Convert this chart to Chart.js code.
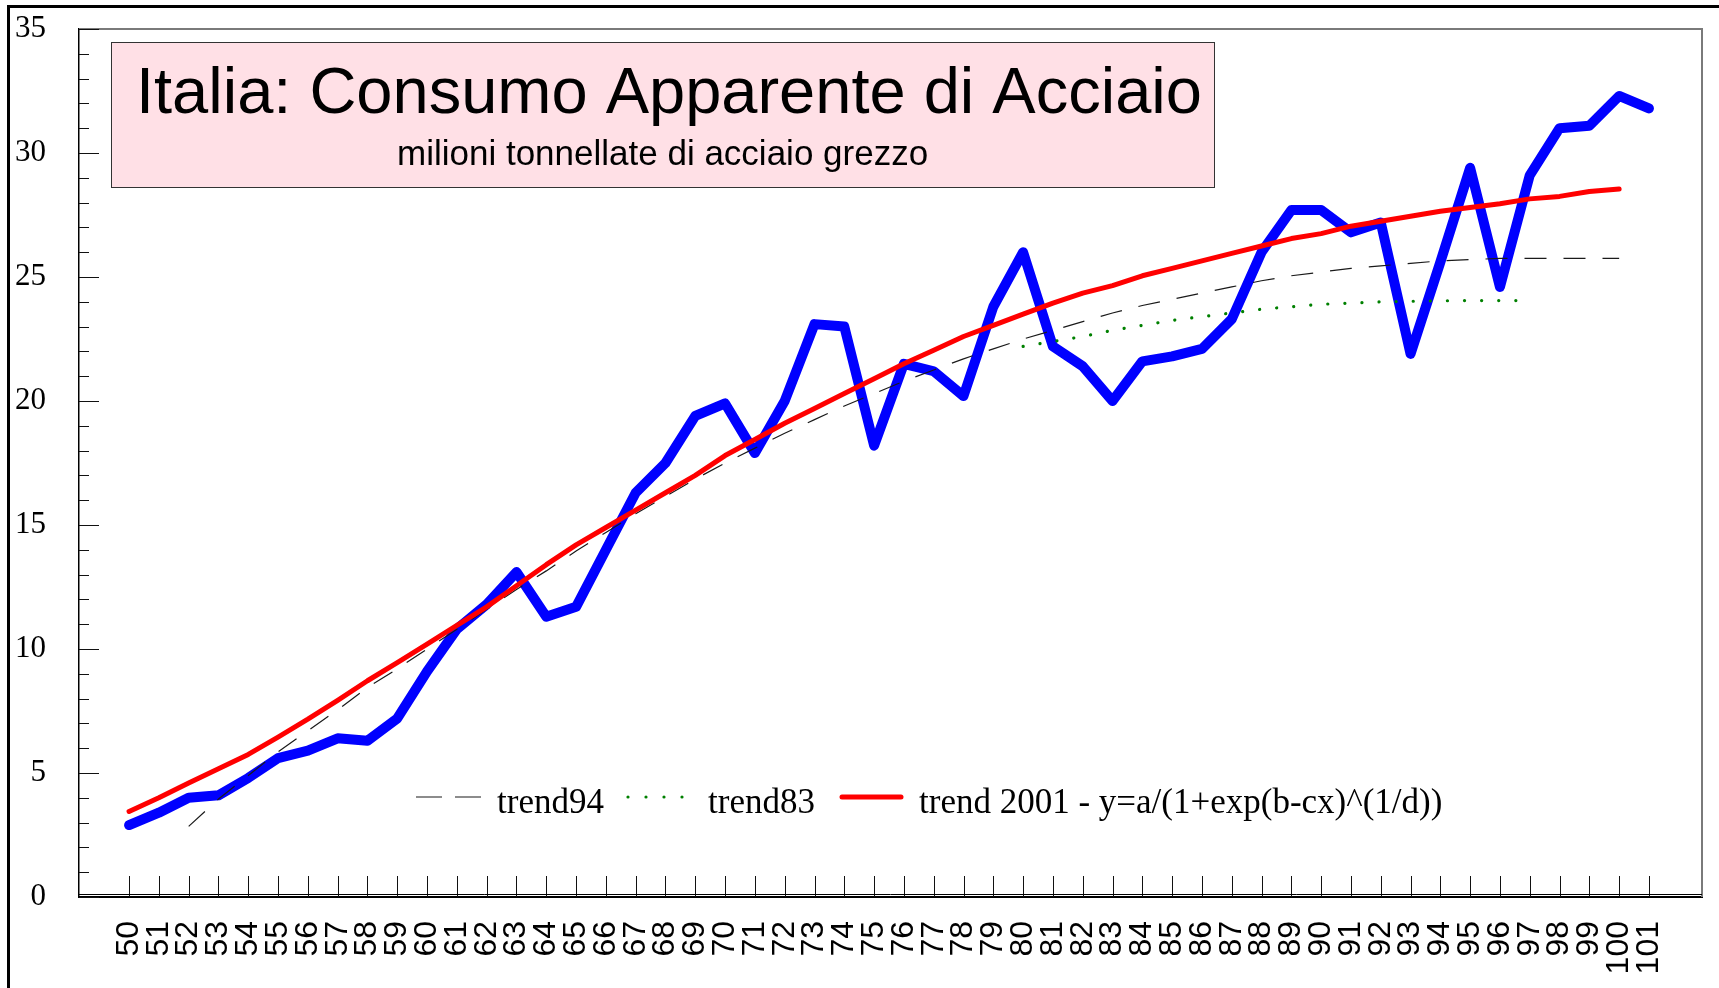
<!DOCTYPE html>
<html><head><meta charset="utf-8">
<script src="https://cdn.jsdelivr.net/npm/chart.js@4.4.0/dist/chart.umd.min.js"></script>
<style>html,body{margin:0;padding:0;background:#fff;overflow:hidden}#wrap{position:relative;width:1719px;height:988px}</style>
</head><body><div id="wrap"><canvas id="c" width="1719" height="988"></canvas></div>
<script>
const years = [50,51,52,53,54,55,56,57,58,59,60,61,62,63,64,65,66,67,68,69,70,71,72,73,74,75,76,77,78,79,80,81,82,83,84,85,86,87,88,89,90,91,92,93,94,95,96,97,98,99,100,101];
const consumo = [2.9,3.4,4.0,4.1,4.8,5.6,5.9,6.4,6.3,7.2,9.1,10.8,11.8,13.1,11.3,11.7,14.0,16.3,17.5,19.4,19.9,17.9,20.0,23.1,23.0,18.2,21.5,21.2,20.2,23.8,26.0,22.2,21.4,20.0,21.6,21.8,22.1,23.3,26.0,27.7,27.7,26.8,27.2,21.9,25.6,29.4,24.6,29.1,31.0,31.1,32.3,31.8];
const trend2001Years = years.slice(0, 51);
const trend2001 = [3.45,4.0,4.6,5.17,5.75,6.45,7.17,7.93,8.72,9.45,10.2,10.95,11.7,12.55,13.4,14.2,14.9,15.6,16.3,17.0,17.8,18.45,19.1,19.7,20.3,20.9,21.5,22.05,22.6,23.05,23.5,23.95,24.35,24.65,25.05,25.35,25.65,25.95,26.25,26.55,26.75,27.05,27.25,27.45,27.65,27.8,27.95,28.15,28.25,28.45,28.55];
const trend94Years = years.slice(2, 51);
const trend94 = [2.85,3.95,4.9,5.85,6.7,7.55,8.45,9.2,10.0,10.8,11.6,12.4,13.15,13.95,14.7,15.45,16.15,16.85,17.5,18.1,18.7,19.25,19.8,20.3,20.8,21.25,21.7,22.1,22.5,22.85,23.2,23.55,23.85,24.1,24.35,24.6,24.85,25.05,25.2,25.35,25.45,25.55,25.65,25.7,25.75,25.75,25.75,25.75,25.75];
const trend83Years = years.slice(30, 48);
const trend83 = [22.2,22.4,22.6,22.85,23.05,23.25,23.4,23.55,23.7,23.8,23.9,23.95,24.0,24.02,24.04,24.05,24.05,24.05];
const yTicks = [0,5,10,15,20,25,30,35];
const titleText = 'Italia: Consumo Apparente di Acciaio';
const subtitleText = 'milioni tonnellate di acciaio grezzo';
const labels = ['consumo', 'trend94', 'trend83', 'trend 2001 - y=a/(1+exp(b-cx)^(1/d))'];

const pts = (xs, ys) => xs.map((x, i) => ({x: x, y: ys[i]}));

const decor = {
  id: 'decor',
  beforeDatasetsDraw(chart) {
    const ctx = chart.ctx, a = chart.chartArea, xs = chart.scales.x, ys = chart.scales.y;
    ctx.save();
    ctx.fillStyle = '#000';
    ctx.fillRect(7, 5, 1719 - 7, 3);
    ctx.fillRect(7, 5, 3, 988 - 5);
    ctx.strokeStyle = '#7a7a7a'; ctx.lineWidth = 2;
    ctx.beginPath(); ctx.moveTo(a.left, a.top); ctx.lineTo(a.right, a.top); ctx.lineTo(a.right, a.bottom); ctx.stroke();
    ctx.strokeStyle = '#111'; ctx.lineWidth = 1;
    for (let v = 0; v <= 35; v++) {
      const y = Math.round(ys.getPixelForValue(v)) + 0.5;
      const len = (v % 5 === 0) ? 20 : 10;
      ctx.beginPath(); ctx.moveTo(a.left, y); ctx.lineTo(a.left + len, y); ctx.stroke();
    }
    years.forEach(v => {
      const x = Math.round(xs.getPixelForValue(v)) + 0.5;
      ctx.beginPath(); ctx.moveTo(x, a.bottom); ctx.lineTo(x, a.bottom - 21); ctx.stroke();
    });
    ctx.strokeStyle = '#000'; ctx.lineWidth = 1;
    ctx.beginPath(); ctx.moveTo(a.left, a.bottom - 2.5); ctx.lineTo(a.right, a.bottom - 2.5); ctx.stroke();
    ctx.restore();
  },
  afterDraw(chart) {
    const ctx = chart.ctx;
    const ds = chart.data.datasets;
    ctx.save();
    ctx.fillStyle = '#FFE0E6';
    ctx.fillRect(111, 42, 1103, 145);
    ctx.strokeStyle = '#333'; ctx.lineWidth = 1;
    ctx.strokeRect(111.5, 42.5, 1103, 145);
    ctx.fillStyle = '#000';
    ctx.textBaseline = 'alphabetic';
    ctx.font = '65px "Liberation Sans", Arial, sans-serif';
    ctx.fillText(titleText, 136, 113);
    ctx.font = '35px "Liberation Sans", Arial, sans-serif';
    ctx.fillText(subtitleText, 397, 165);
    const ly = 797, ty = 813;
    ctx.font = '35px "Liberation Serif", "Times New Roman", serif';
    ctx.strokeStyle = ds[1].borderColor; ctx.lineWidth = ds[1].borderWidth;
    ctx.setLineDash([26, 13]);
    ctx.beginPath(); ctx.moveTo(416, ly); ctx.lineTo(481, ly); ctx.stroke();
    ctx.setLineDash([]);
    ctx.fillText(ds[1].label, 497, ty);
    ctx.fillStyle = ds[2].borderColor;
    [628, 646, 664, 682].forEach(x => { ctx.beginPath(); ctx.arc(x, ly, 1.6, 0, Math.PI * 2); ctx.fill(); });
    ctx.fillStyle = '#000';
    ctx.fillText(ds[2].label, 708, ty);
    ctx.strokeStyle = ds[3].borderColor; ctx.lineWidth = ds[3].borderWidth; ctx.lineCap = 'round';
    ctx.beginPath(); ctx.moveTo(842, ly); ctx.lineTo(901, ly); ctx.stroke();
    ctx.fillText(ds[3].label, 919, ty);
    ctx.restore();
  }
};

new Chart(document.getElementById('c'), {
  type: 'line',
  data: {
    datasets: [
      {label: labels[0], data: pts(years, consumo), borderColor: '#0000FF', borderWidth: 10, pointRadius: 0, tension: 0, borderCapStyle: 'round', borderJoinStyle: 'round', fill: false, order: 3},
      {label: labels[1], data: pts(trend94Years, trend94), borderColor: '#1a1a1a', borderWidth: 1.2, borderDash: [22, 17], pointRadius: 0, tension: 0, fill: false, order: 2},
      {label: labels[2], data: pts(trend83Years, trend83), borderColor: '#008000', borderWidth: 3.2, borderDash: [0.1, 17], borderCapStyle: 'round', pointRadius: 0, tension: 0, fill: false, order: 1},
      {label: labels[3], data: pts(trend2001Years, trend2001), borderColor: '#FF0000', borderWidth: 5, borderCapStyle: 'round', borderJoinStyle: 'round', pointRadius: 0, tension: 0, fill: false, order: 0}
    ]
  },
  options: {
    responsive: false,
    animation: false,
    layout: {padding: {top: 29, right: 17, left: 0, bottom: 0}},
    plugins: {legend: {display: false}, tooltip: {enabled: false}},
    scales: {
      x: {
        type: 'linear', min: 48.32, max: 102.78,
        afterBuildTicks: s => { s.ticks = years.map(v => ({value: v})); },
        afterFit: s => { s.height = 91; s.paddingLeft = 0; s.paddingRight = 0; },
        grid: {display: false, drawTicks: false},
        border: {display: true, color: '#000', width: 2},
        ticks: {autoSkip: false, minRotation: 90, maxRotation: 90, padding: 24, color: '#000',
                font: {family: '"Liberation Sans", Arial, sans-serif', size: 32},
                callback: v => String(v)}
      },
      y: {
        min: 0, max: 35,
        afterBuildTicks: s => { s.ticks = yTicks.map(v => ({value: v})); },
        afterFit: s => { s.width = 79; s.paddingTop = 0; s.paddingBottom = 0; },
        grid: {display: false, drawTicks: false},
        border: {display: true, color: '#000', width: 1.5},
        ticks: {padding: 33, color: '#000', font: {family: '"Liberation Serif", "Times New Roman", serif', size: 31}}
      }
    }
  },
  plugins: [decor]
});
</script></body></html>
